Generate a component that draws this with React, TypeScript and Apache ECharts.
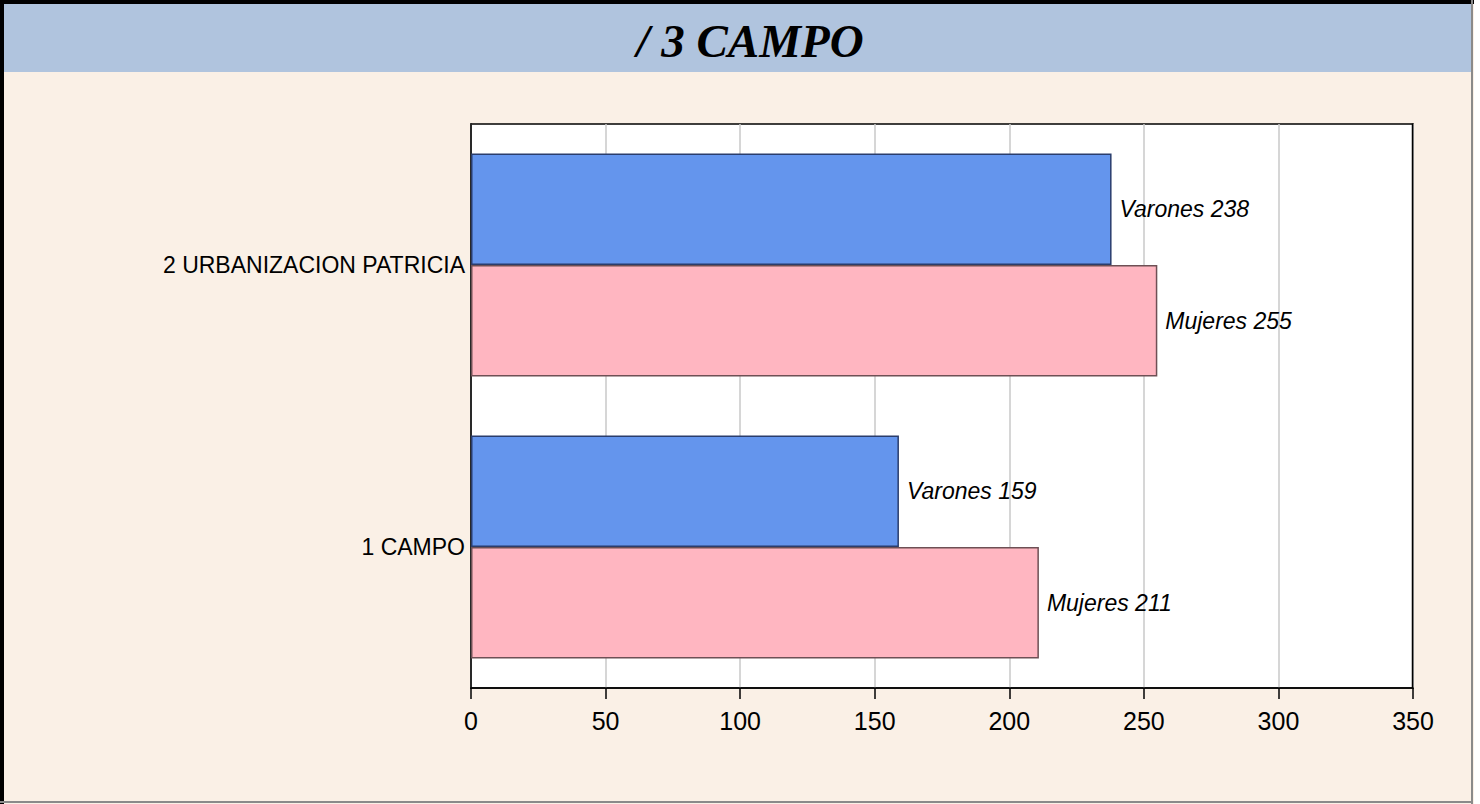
import React, { useEffect, useRef } from "react";
import * as echarts from "echarts";

const titleText = "/ 3 CAMPO";
const categories = ["1 CAMPO", "2 URBANIZACION PATRICIA"];
const varones = [159, 238];
const mujeres = [211, 255];
const seriesNames = ["Varones", "Mujeres"];
const axisMin = 0;
const axisMax = 350;
const axisStep = 50;

export default function App() {
  const ref = useRef<HTMLDivElement>(null);
  useEffect(() => {
    if (!ref.current) return;
    const chart = echarts.init(ref.current, null, { renderer: "svg" });
    const labelStyle = {
      show: true,
      position: "right" as const,
      distance: 8,
      formatter: "{a} {c}",
      fontFamily: "Liberation Sans",
      fontStyle: "italic" as const,
      fontSize: 23,
      color: "#000",
    };
    chart.setOption({
      animation: false,
      backgroundColor: "#FFFFFF",
      graphic: [
        { type: "rect", z: -10, shape: { x: 0, y: 0, width: 1474, height: 804 }, style: { fill: "#FAF0E6" } },
        { type: "rect", z: -9, shape: { x: 4, y: 4, width: 1469, height: 68 }, style: { fill: "#B0C4DE" } },
        { type: "rect", z: -8, shape: { x: 0, y: 0, width: 4, height: 804 }, style: { fill: "#000" } },
        { type: "rect", z: -8, shape: { x: 0, y: 0, width: 1474, height: 4 }, style: { fill: "#000" } },
        { type: "rect", z: -8, shape: { x: 1471, y: 0, width: 2, height: 804 }, style: { fill: "#8a8a8a" } },
        { type: "rect", z: -8, shape: { x: 0, y: 801, width: 1473, height: 2 }, style: { fill: "#8a8a8a" } },
        {
          type: "line",
          z: 50,
          shape: { x1: 1412.5, y1: 123.5, x2: 1412.5, y2: 688 },
          style: { stroke: "#000", lineWidth: 1.5 },
        },
        {
          type: "text",
          x: 750,
          y: 41,
          style: {
            text: titleText,
            font: 'italic bold 47px "Liberation Serif"',
            fill: "#000",
            textAlign: "center",
            textVerticalAlign: "middle",
          },
        },
      ],
      grid: {
        left: 471,
        top: 124,
        width: 942,
        height: 564,
        show: true,
        backgroundColor: "#FFFFFF",
        borderColor: "#000",
        borderWidth: 1.5,
      },
      xAxis: {
        type: "value",
        min: axisMin,
        max: axisMax,
        interval: axisStep,
        axisLine: { show: true, lineStyle: { color: "#000", width: 1.5 } },
        axisTick: { show: true, length: 11, lineStyle: { color: "#000", width: 1.5 } },
        axisLabel: { margin: 20, fontFamily: "Liberation Sans", fontSize: 25, color: "#000" },
        splitLine: { show: true, lineStyle: { color: "#c8c8c8", width: 1.5 } },
      },
      yAxis: {
        type: "category",
        data: categories,
        axisLine: { show: true, lineStyle: { color: "#000", width: 1.5 } },
        axisTick: { show: false },
        axisLabel: { margin: 6, fontFamily: "Liberation Sans", fontSize: 23, color: "#000" },
        splitLine: { show: false },
      },
      series: [
        {
          name: seriesNames[0],
          type: "bar",
          data: varones,
          barGap: "0%",
          barCategoryGap: "21%",
          itemStyle: { color: "#6495ED", borderColor: "#2a3d6c", borderWidth: 1.5 },
          label: labelStyle,
        },
        {
          name: seriesNames[1],
          type: "bar",
          data: mujeres,
          barGap: "0%",
          barCategoryGap: "21%",
          itemStyle: { color: "#FFB6C1", borderColor: "#6e5055", borderWidth: 1.5 },
          label: labelStyle,
        },
      ],
    });
    return () => chart.dispose();
  }, []);
  return (
    <div
      ref={ref}
      style={{ position: "fixed", left: 0, top: 0, width: 1480, height: 804 }}
    />
  );
}
